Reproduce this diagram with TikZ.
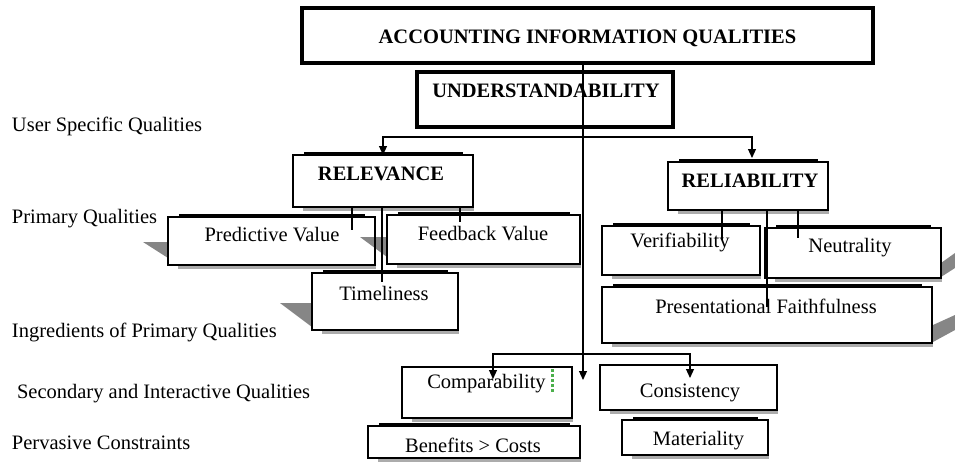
\documentclass[tikz,border=0pt]{standalone}
\usepackage{fontspec}
\setmainfont{Liberation Serif}
\usetikzlibrary{arrows.meta}
\begin{document}
\begin{tikzpicture}[x=1pt,y=-1pt,
  every node/.style={inner sep=0pt,outer sep=0pt},
  txt/.style={font=\fontsize{20.5}{24}\selectfont,anchor=base},
  btxt/.style={anchor=base,font=\fontsize{20.5}{24}\selectfont\bfseries},
  side/.style={font=\fontsize{20.5}{24}\selectfont,anchor=base west},
  frame/.style={draw,line width=4pt,rectangle},
  qbox/.style={draw,line width=1.2pt,rectangle},
  wire/.style={line width=1.1pt},
  arr/.style={wire,-{Triangle[length=9pt,width=8pt]}},
  topbar/.style={line width=3pt},
  underlay/.style={line width=3pt,gray!65},
  wedge/.style={fill=gray!95,draw=none}]
\useasboundingbox (0,0) rectangle (955,464);

% shadow wedges behind the boxes
\fill[wedge] (143,242) -- (168,242) -- (168,258) -- cycle;
\fill[wedge] (360,237) -- (387,237) -- (387,257) -- cycle;
\fill[wedge] (280,303) -- (312,303) -- (312,327) -- cycle;
\fill[wedge] (941,263) -- (955,253) -- (955,268) -- (941,277) -- cycle;
\fill[wedge] (933,325) -- (955,315) -- (955,330) -- (933,342) -- cycle;

% heading frames
\node[frame,minimum width=571pt,minimum height=55pt] (top) at (587.5,35.5) {};
\node[frame,minimum width=256pt,minimum height=55pt] (und) at (545,99.5) {};

% quality boxes
\node[qbox,minimum width=180pt,minimum height=52pt] (rel)  at (383,181) {};
\node[qbox,minimum width=160pt,minimum height=48pt] (rly)  at (748,186) {};
\node[qbox,minimum width=207pt,minimum height=48pt] (pv)   at (271.5,241) {};
\node[qbox,minimum width=193pt,minimum height=49pt] (fv)   at (483.5,239.5) {};
\node[qbox,minimum width=146pt,minimum height=57pt] (tim)  at (385,301.5) {};
\node[qbox,minimum width=158pt,minimum height=49pt] (ver)  at (681,250.5) {};
\node[qbox,minimum width=176pt,minimum height=50pt] (neu)  at (853,253) {};
\node[qbox,minimum width=330pt,minimum height=56pt] (pf)   at (767,315) {};
\node[qbox,minimum width=170pt,minimum height=51pt] (cmp)  at (487,392.5) {};
\node[qbox,minimum width=177pt,minimum height=45pt] (cons) at (688.5,387.5) {};
\node[qbox,minimum width=212pt,minimum height=32pt] (ben)  at (474,442) {};
\node[qbox,minimum width=146pt,minimum height=35pt] (mat)  at (695,437.5) {};

% raised top edges and soft bottom shadows
\foreach \n in {rel,rly,pv,fv,tim,ver,neu,pf,ben,mat} {
  \draw[topbar] ([xshift=11pt,yshift=1.5pt]\n.north west) -- ([xshift=-10pt,yshift=1.5pt]\n.north east);
}
\foreach \n in {rel,rly,pv,fv,tim,ver,neu,pf,cmp,cons,ben,mat} {
  \draw[underlay] ([xshift=10pt,yshift=-2.2pt]\n.south west) -- ([xshift=1pt,yshift=-2.2pt]\n.south east);
}

% texts
\node[btxt] (topT) at (587.5,43) {ACCOUNTING INFORMATION QUALITIES};
\node[btxt] (undT) at (546,97) {UNDERSTANDABILITY};
\node[btxt] (relT) at (381,180) {RELEVANCE};
\node[btxt] (rlyT) at (750,187) {RELIABILITY};
\node[txt] (pvT)   at (272,241) {Predictive Value};
\node[txt] (fvT)   at (483,240) {Feedback Value};
\node[txt] (timT)  at (384,300) {Timeliness};
\node[txt] (verT)  at (680,247) {Verifiability};
\node[txt] (neuT)  at (850,252) {Neutrality};
\node[txt] (pfT)   at (766,313) {Presentational Faithfulness};
\node[txt] (cmpT)  at (486.5,388) {Comparability};
\node[txt] (consT) at (690,397) {Consistency};
\node[txt] (benT)  at (473,452) {Benefits > Costs};
\node[txt] (matT)  at (698.5,445) {Materiality};

% level captions
\node[side] (l1) at (12,131) {User Specific Qualities};
\node[side] (l2) at (12,223) {Primary Qualities};
\node[side] (l3) at (12,337) {Ingredients of Primary Qualities};
\node[side] (l4) at (17,398) {Secondary and Interactive Qualities};
\node[side] (l5) at (12,449) {Pervasive Constraints};

% text cursor mark
\draw[green!55!black!70,line width=3pt,dotted] (552,369) -- (552,393);

% main spine
\coordinate (spine) at (583,380);
\draw[arr] (top.south -| spine) -- (spine);

% split to the primary qualities
\coordinate (split) at (583,137);
\draw[arr] (split) -| (rel.north);
\draw[arr] (split) -| ([xshift=4pt,yshift=4pt]rly.north);

% relevance ingredients
\coordinate (e1) at (352,230);
\coordinate (e2) at (382,282);
\coordinate (e3) at (460,222);
\draw[wire] (rel.south -| e1) -- (e1);
\draw[wire] (rel.south -| e2) -- (e2);
\draw[wire] (rel.south -| e3) -- (e3);

% reliability ingredients
\coordinate (f1) at (722,240);
\coordinate (f2) at (767,307);
\coordinate (f3) at (798,238);
\draw[wire] (rly.south -| f1) -- (f1);
\draw[wire] (rly.south -| f2) -- (f2);
\draw[wire] (rly.south -| f3) -- (f3);

% secondary qualities
\coordinate (split2) at (583,354);
\coordinate (g1) at (493,379);
\coordinate (g2) at (690,378);
\draw[arr] (split2) -| (g1);
\draw[arr] (split2) -| (g2);
\end{tikzpicture}
\end{document}
